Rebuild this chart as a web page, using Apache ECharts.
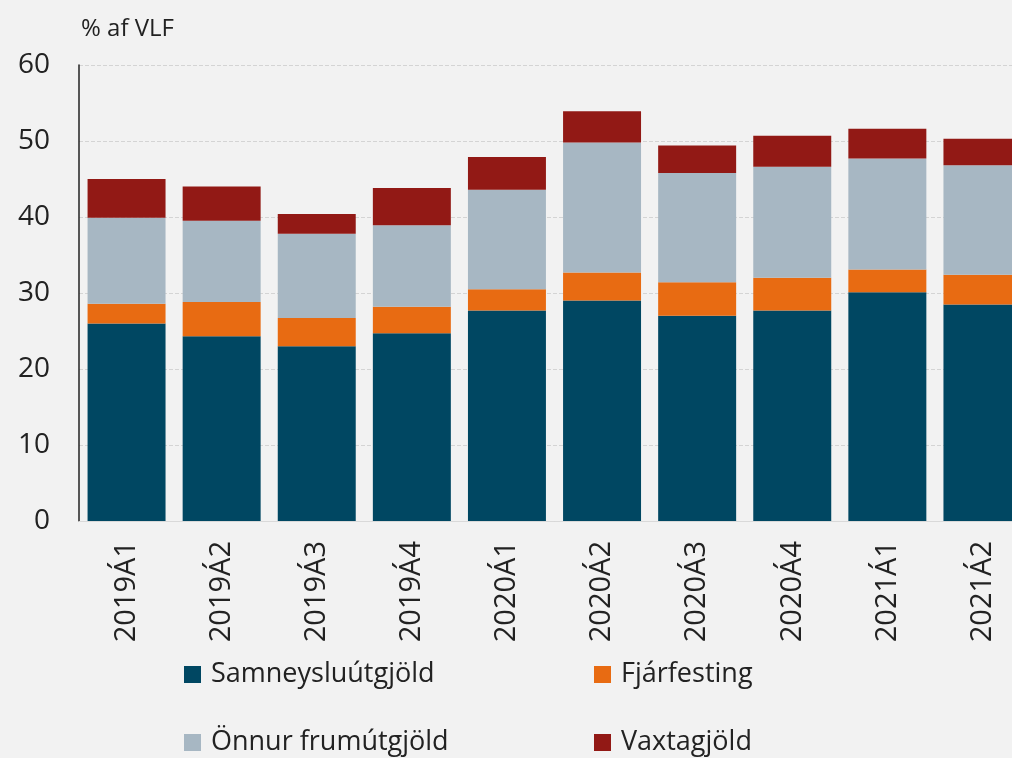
<!DOCTYPE html>
<html>
<head>
<meta charset="utf-8">
<script src="https://cdn.jsdelivr.net/npm/echarts@6/dist/echarts.min.js"></script>
<style>
  html, body { margin: 0; padding: 0; background: #f2f2f2; overflow: hidden; }
  #main { width: 1030px; height: 758px; }
</style>
</head>
<body>
<div id="main"></div>
<script>
// flokkar (ársfjórðungar)
var categories = ['2019Á1', '2019Á2', '2019Á3', '2019Á4', '2020Á1', '2020Á2', '2020Á3', '2020Á4', '2021Á1', '2021Á2'];
// % af VLF
var samneysla = [26.0, 24.3, 23.0, 24.7, 27.7, 29.0, 27.0, 27.7, 30.1, 28.5];
var fjarfesting = [2.6, 4.5, 3.7, 3.5, 2.8, 3.7, 4.4, 4.3, 3.0, 3.9];
var onnur = [11.3, 10.7, 11.1, 10.7, 13.1, 17.1, 14.4, 14.6, 14.6, 14.4];
var vaxtagjold = [5.1, 4.5, 2.6, 4.9, 4.3, 4.1, 3.6, 4.1, 3.9, 3.5];
var yTicks = [0, 10, 20, 30, 40, 50, 60];

var font = '"Open Sans", sans-serif';
var chart = echarts.init(document.getElementById('main'));

function bar(name, data, color) {
    return {
        name: name,
        type: 'bar',
        stack: 'heild',
        data: data,
        barCategoryGap: '18%',
        itemStyle: { color: color },
        emphasis: { disabled: true }
    };
}

// tveir dálkar í skýringum
function legendCol(names, left) {
    return {
        data: names,
        orient: 'vertical',
        left: left,
        top: 661,
        height: 120,
        padding: 0,
        itemWidth: 17,
        itemHeight: 17,
        itemGap: 41,
        icon: 'rect',
        textStyle: { fontFamily: font, fontSize: 27, lineHeight: 27, color: '#222', padding: [0, 0, 0, 5] }
    };
}

var option = {
    backgroundColor: '#f2f2f2',
    animation: false,
    title: {
        text: '% af VLF',
        left: 76,
        top: 12,
        textStyle: { fontFamily: font, fontSize: 24, fontWeight: 'normal', color: '#222' }
    },
    legend: [
        legendCol(['Samneysluútgjöld', 'Önnur frumútgjöld'], 184),
        legendCol(['Fjárfesting', 'Vaxtagjöld'], 594)
    ],
    grid: { left: 79, right: 0, top: 65, bottom: 237 },
    xAxis: {
        type: 'category',
        data: categories,
        axisLine: { lineStyle: { color: '#d9d9d9', width: 1 } },
        axisTick: { show: false },
        axisLabel: {
            rotate: 90,
            margin: 20,
            fontFamily: font,
            fontSize: 29,
            color: '#222'
        }
    },
    yAxis: {
        type: 'value',
        min: yTicks[0],
        max: yTicks[yTicks.length - 1],
        interval: 10,
        axisLine: { show: true, lineStyle: { color: '#222', width: 1.5 } },
        axisTick: { show: false },
        axisLabel: { margin: 29, fontFamily: font, fontSize: 28, color: '#222' },
        splitLine: { lineStyle: { type: 'dashed', color: '#d4d4d4' } }
    },
    series: [
        bar('Samneysluútgjöld', samneysla, '#004762'),
        bar('Fjárfesting', fjarfesting, '#e86b12'),
        bar('Önnur frumútgjöld', onnur, '#a7b7c3'),
        bar('Vaxtagjöld', vaxtagjold, '#921915')
    ]
};
chart.setOption(option);
</script>
</body>
</html>
